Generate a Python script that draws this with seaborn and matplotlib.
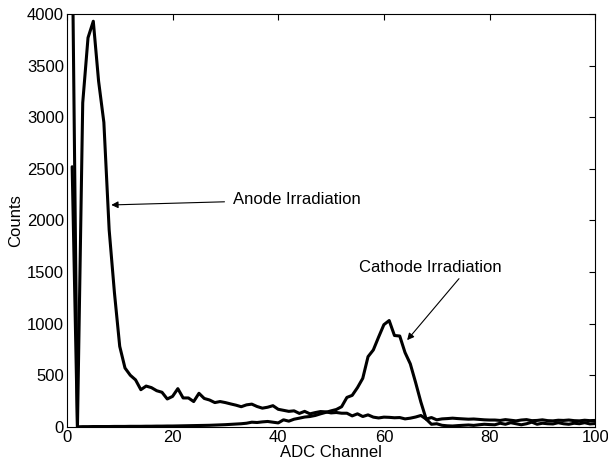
import numpy as np
import pandas as pd
import matplotlib
matplotlib.use("Agg")
import matplotlib.pyplot as plt
import seaborn as sns

channels = list(range(1, 101))

anode_counts = [
    2520, 0, 3140, 3770, 3930, 3350, 2950, 1910, 1300, 780,
    570, 500, 455, 360, 395, 380, 350, 335, 270, 295,
    370, 280, 280, 245, 325, 275, 260, 235, 245, 235,
    222, 210, 195, 213, 220, 197, 181, 190, 205, 170,
    160, 150, 155, 130, 150, 126, 138, 148, 145, 135,
    139, 132, 132, 106, 126, 100, 116, 94, 86, 94,
    92, 88, 90, 77, 84, 95, 110, 75, 90, 68,
    77, 80, 84, 80, 77, 74, 76, 72, 68, 66,
    66, 62, 70, 64, 58, 66, 70, 60, 62, 68,
    60, 58, 64, 62, 66, 60, 58, 64, 60, 62,
]

cathode_counts = [
    4800, 0, 2, 2, 3, 3, 3, 3, 4, 4,
    4, 5, 5, 5, 6, 6, 7, 7, 8, 8,
    9, 10, 11, 12, 13, 14, 15, 17, 19, 21,
    24, 27, 30, 35, 45, 42, 48, 52, 45, 38,
    68, 55, 74, 84, 95, 100, 110, 126, 140, 155,
    168, 195, 285, 305, 380, 470, 680, 745, 870, 990,
    1030, 885, 880, 720, 610, 430, 240, 75, 25, 30,
    15, 10, 8, 12, 15, 18, 14, 20, 25, 22,
    20, 35, 25, 40, 30, 20, 30, 45, 25, 35,
    30, 28, 40, 30, 25, 35, 30, 40, 28, 32,
]

x_ticks = [0, 20, 40, 60, 80, 100]
y_ticks = [0, 500, 1000, 1500, 2000, 2500, 3000, 3500, 4000]

df = pd.DataFrame({
    "channel": channels * 2,
    "counts": anode_counts + cathode_counts,
    "series": ["Anode"] * len(channels) + ["Cathode"] * len(channels),
})

sns.set_style("white")
plt.rcParams["font.family"] = ["Liberation Sans", "DejaVu Sans"]
plt.rcParams["text.color"] = "black"
plt.rcParams["axes.labelcolor"] = "black"

fig = plt.figure(figsize=(6.08, 4.67), dpi=100)
ax = fig.add_axes([0.110, 0.086, 0.869, 0.884])

sns.lineplot(data=df, x="channel", y="counts", units="series", estimator=None,
             color="black", linewidth=2.2, ax=ax, legend=False)

ax.set_xlim(0, 100)
ax.set_ylim(0, 4000)
ax.set_xticks(x_ticks)
ax.set_yticks(y_ticks)
ax.tick_params(direction="in", top=True, right=True, labelsize=12,
               length=4, width=0.8, colors="black", pad=2)
for s in ax.spines.values():
    s.set_color("black")
    s.set_linewidth(0.8)
ax.set_xlabel("ADC Channel", fontsize=12, labelpad=0, color="black")
ax.set_ylabel("Counts", fontsize=12, labelpad=3, color="black")

ax.annotate("Anode Irradiation", xy=(8.4, 2150), xytext=(31.5, 2200),
            fontsize=12, va="center", ha="left", color="black",
            arrowprops=dict(arrowstyle="-|>", color="black", lw=0.8,
                            shrinkA=4, shrinkB=0, mutation_scale=10))
ax.annotate("Cathode Irradiation", xy=(64.4, 840), xytext=(55.3, 1540),
            fontsize=12, va="center", ha="left", color="black",
            arrowprops=dict(arrowstyle="-|>", color="black", lw=0.8,
                            shrinkA=0, shrinkB=0, mutation_scale=10,
                            relpos=(0.72, 0.0)))

fig.savefig("out.png", dpi=100)
